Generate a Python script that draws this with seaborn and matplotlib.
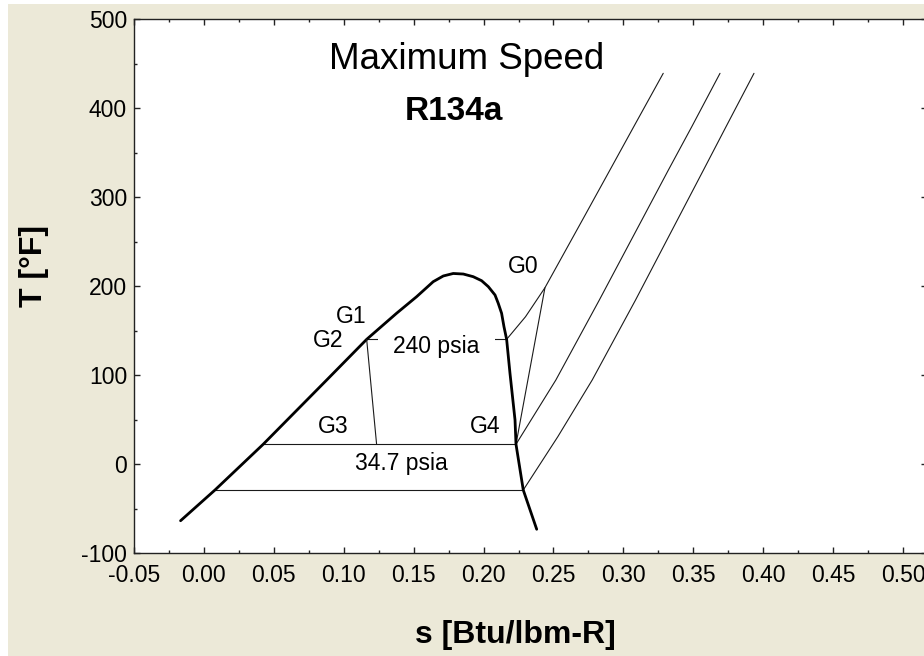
import numpy as np
import pandas as pd
import matplotlib
matplotlib.use("Agg")
import matplotlib.pyplot as plt
import seaborn as sns
from matplotlib.patches import Rectangle
from matplotlib.ticker import MultipleLocator, FixedLocator, FixedFormatter

# ---------------- data ----------------
# saturation dome of R134a
dome_s = [-0.0167, 0.0079, 0.0424, 0.0878, 0.1164, 0.1378, 0.1521, 0.1640,
          0.1712, 0.1783, 0.1855, 0.1926, 0.1986, 0.2034, 0.2082, 0.2105,
          0.2129, 0.2146, 0.2165, 0.2189, 0.2225, 0.2232, 0.2284, 0.2380]
dome_T = [-63.4, -28.9, 22.5, 94.7, 140.4, 169.7, 188.3, 205.2,
          211.6, 214.4, 213.8, 210.8, 206.3, 199.6, 190.2, 180.9,
          169.7, 154.6, 140.4, 102.2, 49.8, 22.5, -28.9, -73.0]

# superheated parts of the three isobars
hp_s = [0.2165, 0.2300, 0.2439, 0.2720, 0.2904, 0.3074, 0.3285]
hp_T = [140.4, 165.8, 198.4, 278.2, 330.7, 379.3, 439.3]
mp_s = [0.2232, 0.2517, 0.2828, 0.3132, 0.3322, 0.3489, 0.3691]
mp_T = [22.5, 94.7, 184.6, 274.5, 330.7, 379.3, 439.3]
lp_s = [0.2284, 0.2531, 0.2777, 0.3087, 0.3386, 0.3573, 0.3734, 0.3934]
lp_T = [-28.9, 31.0, 94.7, 184.6, 274.5, 330.7, 379.3, 439.3]

# isobars inside the dome (saturation temperature, liquid s, vapour s)
sat_T = [140.4, 22.5, -28.9]
sat_sf = [0.1164, 0.0424, 0.0079]
sat_sg = [0.2165, 0.2232, 0.2284]

# process lines  G2 -> G3  and  G4 -> G0
exp_s = [0.1164, 0.1235]
exp_T = [140.4, 22.5]
comp_s = [0.2232, 0.2439]
comp_T = [22.5, 198.4]

# state labels
state_names = ["G0", "G1", "G2", "G3", "G4"]
state_s = [0.2282, 0.1052, 0.0889, 0.0927, 0.2010]
state_T = [214.9, 159.1, 131.5, 35.5, 35.5]

# pressure labels
p_names = ["240 psia", "34.7 psia"]
p_s = [0.1662, 0.1414]
p_T = [124.5, -6.4]

x_ticks = [-0.05, 0.00, 0.05, 0.10, 0.15, 0.20, 0.25, 0.30, 0.35, 0.40, 0.45, 0.50]
x_ticklabels = ["-0.05", "0.00", "0.05", "0.10", "0.15", "0.20", "0.25",
                "0.30", "0.35", "0.40", "0.45", "0.50"]
y_ticks = [-100, 0, 100, 200, 300, 400, 500]
y_ticklabels = ["-100", "0", "100", "200", "300", "400", "500"]

# ---------------- figure ----------------
sns.set_theme(style="white")
plt.rcParams["font.family"] = ["Liberation Sans", "DejaVu Sans"]

W, H = 924, 656
fig = plt.figure(figsize=(W / 100, H / 100), dpi=100, facecolor="white")
fig.patches.append(Rectangle((8 / W, 0), 1, (H - 4) / H, transform=fig.transFigure,
                             facecolor="#ECE9D8", edgecolor="none", zorder=-10))

left, right, top, bottom = 134, 927.5, 19.3, 553.3
ax = fig.add_axes([left / W, (H - bottom) / H, (right - left) / W, (bottom - top) / H])
ax.set_facecolor("white")

thin = dict(color="#1a1a1a", linewidth=0.8, sort=False, estimator=None, ax=ax)

sns.lineplot(x=dome_s, y=dome_T, color="black", linewidth=2.0, sort=False,
             estimator=None, ax=ax, zorder=7)
for s_, T_ in [(hp_s, hp_T), (mp_s, mp_T), (lp_s, lp_T)]:
    sns.lineplot(x=s_, y=T_, **thin)
for T0, sf, sg in zip(sat_T, sat_sf, sat_sg):
    sns.lineplot(x=[sf, sg], y=[T0, T0], **thin)
sns.lineplot(x=exp_s, y=exp_T, zorder=7, **thin)
sns.lineplot(x=comp_s, y=comp_T, **thin)

lab_fs = 16.5
for name, s_, T_ in zip(state_names, state_s, state_T):
    ax.text(s_, T_, name, ha="center", va="baseline", fontsize=lab_fs, color="black")

ax.text(p_s[0], p_T[0], p_names[0], ha="center", va="baseline", fontsize=lab_fs,
        color="black", zorder=5,
        bbox=dict(boxstyle="square,pad=0.68", facecolor="white", edgecolor="none"))
ax.text(p_s[1], p_T[1], p_names[1], ha="center", va="baseline", fontsize=lab_fs,
        color="black", zorder=5)

ax.text(0.1878, 443.8, "Maximum Speed", ha="center", va="baseline", fontsize=26.5,
        color="black")
ax.text(0.1788, 386.9, "R134a", ha="center", va="baseline", fontsize=24,
        fontweight="bold", color="black")

ax.set_xlim(-0.05, 0.5175)
ax.set_ylim(-100, 500)

ax.xaxis.set_major_locator(FixedLocator(x_ticks))
ax.xaxis.set_major_formatter(FixedFormatter(x_ticklabels))
ax.yaxis.set_major_locator(FixedLocator(y_ticks))
ax.yaxis.set_major_formatter(FixedFormatter(y_ticklabels))
ax.xaxis.set_minor_locator(MultipleLocator(0.025))
ax.yaxis.set_minor_locator(MultipleLocator(50))

ax.tick_params(which="both", direction="in", top=True, right=True, bottom=True,
               left=True, color="#222222", width=1.0, labelsize=16.5,
               labelcolor="black")
ax.tick_params(which="major", length=4)
ax.tick_params(which="minor", length=2.2)
ax.tick_params(axis="x", which="major", pad=8)
ax.tick_params(axis="y", which="major", pad=5)

for sp in ax.spines.values():
    sp.set_color("#222222")
    sp.set_linewidth(1.0)
    sp.set_visible(True)

ax.set_xlabel("s [Btu/lbm-R]", fontsize=23, fontweight="bold", color="black",
              va="center")
ax.xaxis.set_label_coords(0.48, -0.153)
ax.set_ylabel("T [°F]", fontsize=23, fontweight="bold", color="black",
              va="center", ha="center")
ax.yaxis.set_label_coords(-0.126, 0.538)

fig.savefig("out.png", dpi=100, facecolor=fig.get_facecolor())
